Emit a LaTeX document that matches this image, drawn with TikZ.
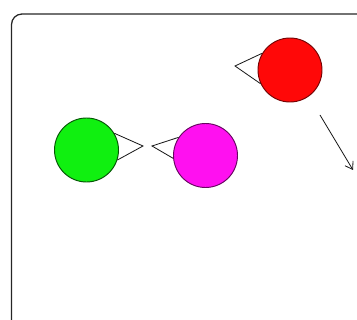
\documentclass[tikz,border=0pt]{standalone}
\usepackage{tikz}
\usetikzlibrary{arrows.meta}
\usepackage{xcolor}
\definecolor{boidGreen}{HTML}{10F010}
\definecolor{boidMagenta}{HTML}{FF10F0}
\definecolor{boidRed}{HTML}{FF0808}

\begin{document}
\begin{tikzpicture}[
    x=0.03cm, y=-0.03cm,
    boid/.style={circle, minimum size=1.92cm, inner sep=0pt, line width=0.8pt},
    greenBoid/.style={boid, draw=boidGreen!35!black, fill=boidGreen},
    magentaBoid/.style={boid, draw=boidMagenta!40!black, fill=boidMagenta},
    redBoid/.style={boid, draw=boidRed!45!black, fill=boidRed},
    viewCone/.style={line width=0.7pt, draw=black!90},
    heading/.style={-{Straight Barb[length=6pt,width=8pt]}, line width=0.7pt, draw=black!90}
]
    \useasboundingbox (0,0) rectangle (357,320);
    \draw[line width=1.1pt, rounded corners=9pt, draw=black!85] (11.5,14) rectangle (375,335);

    \node[greenBoid]   (green)   at (86.5, 150) {};
    \node[magentaBoid] (magenta) at (205.5, 155.5) {};
    \node[redBoid]     (red)     at (290, 70) {};

    \coordinate (greenTip)   at (143, 146);
    \coordinate (magentaTip) at (152, 146);
    \coordinate (redTip)     at (235, 66);
    \coordinate (moveFrom)   at (320, 115);
    \coordinate (moveTo)     at (353, 170);

    \draw[viewCone] (green.31)    -- (greenTip)   -- (green.-18);
    \draw[viewCone] (magenta.146) -- (magentaTip) -- (magenta.185);
    \draw[viewCone] (red.149)     -- (redTip)     -- (red.205);

    \draw[heading] (moveFrom) -- (moveTo);
\end{tikzpicture}
\end{document}
